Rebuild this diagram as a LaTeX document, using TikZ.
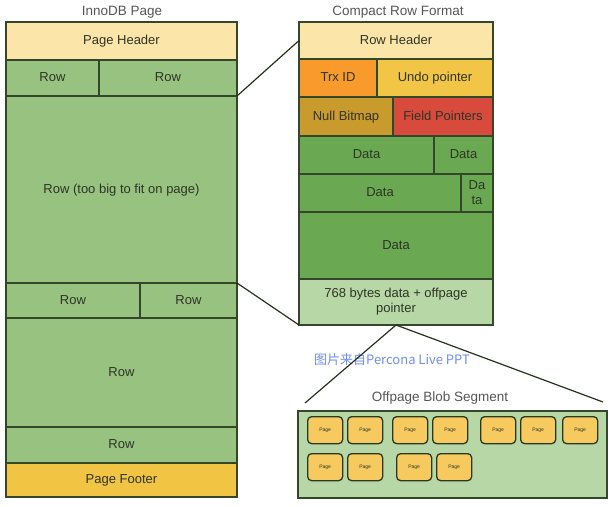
\documentclass[tikz,border=0pt]{standalone}
\usepackage{fontspec}
\setmainfont{Liberation Sans}
\newfontfamily\cjkfont{Noto Sans CJK SC}
\usetikzlibrary{calc}
\definecolor{edgegreen}{HTML}{34472A}
\definecolor{labeltext}{HTML}{2E3526}
\definecolor{titlegray}{HTML}{555555}
\definecolor{hdryellow}{HTML}{FCE5A8}
\definecolor{footyellow}{HTML}{F1C443}
\definecolor{rowgreen}{HTML}{97C280}
\definecolor{datagreen}{HTML}{6BA852}
\definecolor{palegreen}{HTML}{B7D7A6}
\definecolor{trxorange}{HTML}{F89A2C}
\definecolor{undoyellow}{HTML}{F2C546}
\definecolor{nullgold}{HTML}{C99A2C}
\definecolor{fieldred}{HTML}{D84A3B}
\definecolor{pageyellow}{HTML}{F6CA5E}
\definecolor{notblue}{HTML}{6F8EEA}

\begin{document}
\begin{tikzpicture}[x=1pt,y=-1pt,
    cell/.style={draw=edgegreen,line width=1.4pt,inner sep=0pt,outer sep=0pt,
      anchor=north west,text=labeltext,align=center,
      text height=9.5pt,text depth=2.5pt,
      font=\fontsize{13}{15}\selectfont},
    twoline/.style={text height=,text depth=},
    heading/.style={text=titlegray,font=\fontsize{13.5}{15}\selectfont},
    blobpage/.style={draw=edgegreen!80!black,line width=1.3pt,rounded corners=4pt,
      fill=pageyellow,minimum width=35pt,minimum height=27pt,inner sep=0pt,
      anchor=north west,font=\fontsize{5}{6}\selectfont,text=labeltext}]
  \useasboundingbox (0,0) rectangle (615,506);

  % InnoDB page
  \node[heading] (pagetitle) at (122,12) {InnoDB Page};
  \node[cell,fill=hdryellow,minimum width=231pt,minimum height=38pt] (phdr) at (6,22) {Page Header};
  \node[cell,fill=rowgreen,minimum width=93pt,minimum height=36pt] (rowa) at (6,60) {Row};
  \node[cell,fill=rowgreen,minimum width=138pt,minimum height=36pt] (rowb) at (99,60) {Row};
  \node[cell,fill=rowgreen,minimum width=231pt,minimum height=187pt] (bigrow) at (6,96) {Row (too big to fit on page)};
  \node[cell,fill=rowgreen,minimum width=134pt,minimum height=35pt] (rowc) at (6,283) {Row};
  \node[cell,fill=rowgreen,minimum width=97pt,minimum height=35pt] (rowd) at (140,283) {Row};
  \node[cell,fill=rowgreen,minimum width=231pt,minimum height=109pt] (rowe) at (6,318) {Row};
  \node[cell,fill=rowgreen,minimum width=231pt,minimum height=36pt] (rowf) at (6,427) {Row};
  \node[cell,fill=footyellow,minimum width=231pt,minimum height=34pt] (pfoot) at (6,463) {Page Footer};

  % compact row format
  \node[heading] (rowtitle) at (398,12) {Compact Row Format};
  \node[cell,fill=hdryellow,minimum width=194pt,minimum height=37pt] (rhdr) at (299,22) {Row Header};
  \node[cell,fill=trxorange,minimum width=78pt,minimum height=38pt] (trx) at (299,59) {Trx ID};
  \node[cell,fill=undoyellow,minimum width=116pt,minimum height=38pt] (undo) at (377,59) {Undo pointer};
  \node[cell,fill=nullgold,minimum width=94pt,minimum height=39pt] (nullbm) at (299,97) {Null Bitmap};
  \node[cell,fill=fieldred,minimum width=100pt,minimum height=39pt] (fptr) at (393,97) {Field Pointers};
  \node[cell,fill=datagreen,minimum width=135pt,minimum height=38pt] (dataa) at (299,136) {Data};
  \node[cell,fill=datagreen,minimum width=59pt,minimum height=38pt] (datab) at (434,136) {Data};
  \node[cell,fill=datagreen,minimum width=162pt,minimum height=38pt] (datac) at (299,174) {Data};
  \node[cell,twoline,fill=datagreen,minimum width=32pt,minimum height=38pt] (datad) at (461,174) {Da\\ta};
  \node[cell,fill=datagreen,minimum width=194pt,minimum height=67pt] (datae) at (299,212) {Data};
  \node[cell,twoline,fill=palegreen,minimum width=194pt,minimum height=46pt] (offptr) at (299,279) {768 bytes data + offpage\\pointer};

  % zoom lines
  \draw[edgegreen!70!black,line width=1.2pt] (bigrow.north east) -- (rhdr.west);
  \draw[edgegreen!70!black,line width=1.2pt] (bigrow.south east) -- (offptr.south west);

  \node[text=notblue,font=\cjkfont\fontsize{13}{15}\selectfont] (note) at (392,360) {图片来自Percona Live PPT};

  % offpage blob segment
  \node[heading] (segtitle) at (440,398) {Offpage Blob Segment};
  \node[cell,fill=palegreen,minimum width=309pt,minimum height=87pt] (seg) at (298,411) {};
  \coordinate (segleft) at (305,403);
  \coordinate (segright) at (603,402);
  \draw[edgegreen!70!black,line width=1.2pt] (offptr.south) -- (segleft);
  \draw[edgegreen!70!black,line width=1.2pt] (offptr.south) -- (segright);
  \foreach \px [count=\i] in {307,347,392,432,480,520,562}
    \node[blobpage] (pa\i) at (\px,416) {Page};
  \foreach \px [count=\i] in {307,347,396,436}
    \node[blobpage] (pb\i) at (\px,453) {Page};
\end{tikzpicture}
\end{document}
